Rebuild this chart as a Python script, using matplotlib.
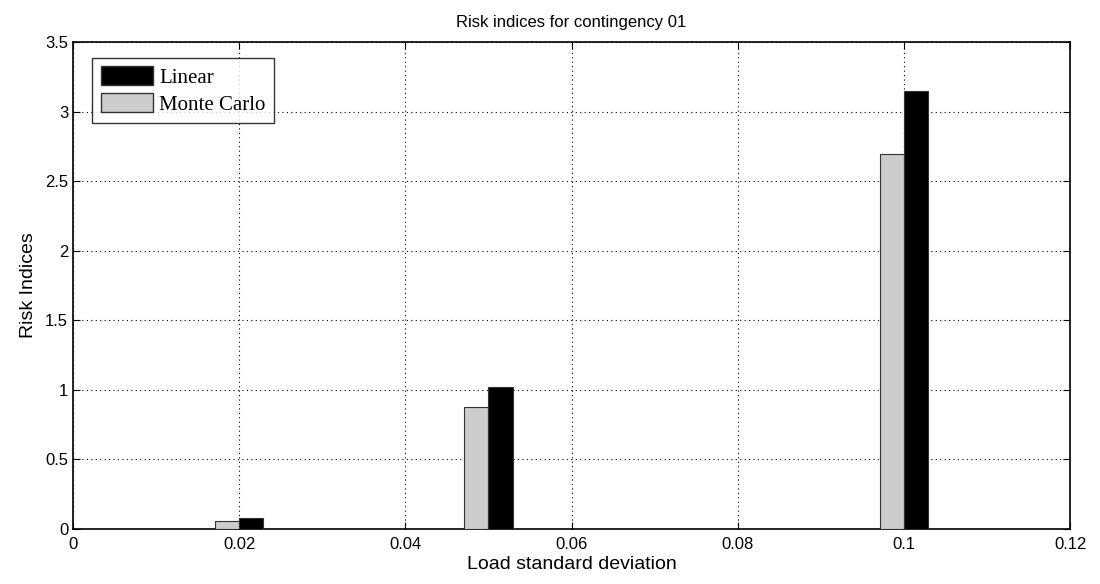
import numpy as np
import matplotlib.pyplot as plt
from matplotlib.patches import Patch

# load standard deviations and risk indices
load_std = [0.02, 0.05, 0.1]
monte_carlo = [0.055, 0.875, 2.695]
linear = [0.08, 1.023, 3.15]

bar_w = 0.0029

fig = plt.figure(figsize=(11, 5.84), dpi=100)
ax = fig.add_axes([0.0664, 0.0942, 0.9064, 0.8338])

x = np.array(load_std)
ax.bar(x - bar_w / 2, monte_carlo, width=bar_w, color='#cccccc',
       edgecolor='#333333', linewidth=0.8, zorder=3)
ax.bar(x + bar_w / 2, linear, width=bar_w, color='black',
       edgecolor='#333333', linewidth=0.8, zorder=3)

ax.set_xlim(0, 0.12)
ax.set_ylim(0, 3.5)
ax.set_xticks([0, 0.02, 0.04, 0.06, 0.08, 0.1, 0.12])
ax.set_xticklabels(['0', '0.02', '0.04', '0.06', '0.08', '0.1', '0.12'])
ax.set_yticks(np.arange(0, 3.6, 0.5))
ax.set_yticklabels(['0', '0.5', '1', '1.5', '2', '2.5', '3', '3.5'])
ax.tick_params(direction='in', top=True, right=True, length=5,
               labelsize=12)
ax.tick_params(axis='x', pad=6)
ax.tick_params(axis='y', pad=3.5)
for lbl in ax.get_xticklabels() + ax.get_yticklabels():
    lbl.set_family('Liberation Sans')
ax.grid(True, linestyle=(0, (1, 3)), color='black', linewidth=0.8, zorder=0)
for s in ax.spines.values():
    s.set_linewidth(1.2)

ax.set_title('Risk indices for contingency 01', family='Liberation Sans',
             fontsize=12, pad=11)
ax.set_xlabel('Load standard deviation', family='Liberation Sans',
              fontsize=14, labelpad=3)
ax.set_ylabel('Risk Indices', family='Liberation Sans', fontsize=14,
              labelpad=6)

handles = [Patch(facecolor='black', edgecolor='#333333', label='Linear'),
           Patch(facecolor='#cccccc', edgecolor='#333333', label='Monte Carlo')]
leg = ax.legend(handles=handles, loc='upper left',
                bbox_to_anchor=(0.0195, 0.968),
                prop={'family': 'Liberation Serif', 'size': 15},
                frameon=True, fancybox=False, edgecolor='black',
                handlelength=2.5, handleheight=1.05, handletextpad=0.3,
                labelspacing=0.25, borderpad=0.4, borderaxespad=0)
leg.get_frame().set_linewidth(1.0)

fig.savefig('out.png', dpi=100)
